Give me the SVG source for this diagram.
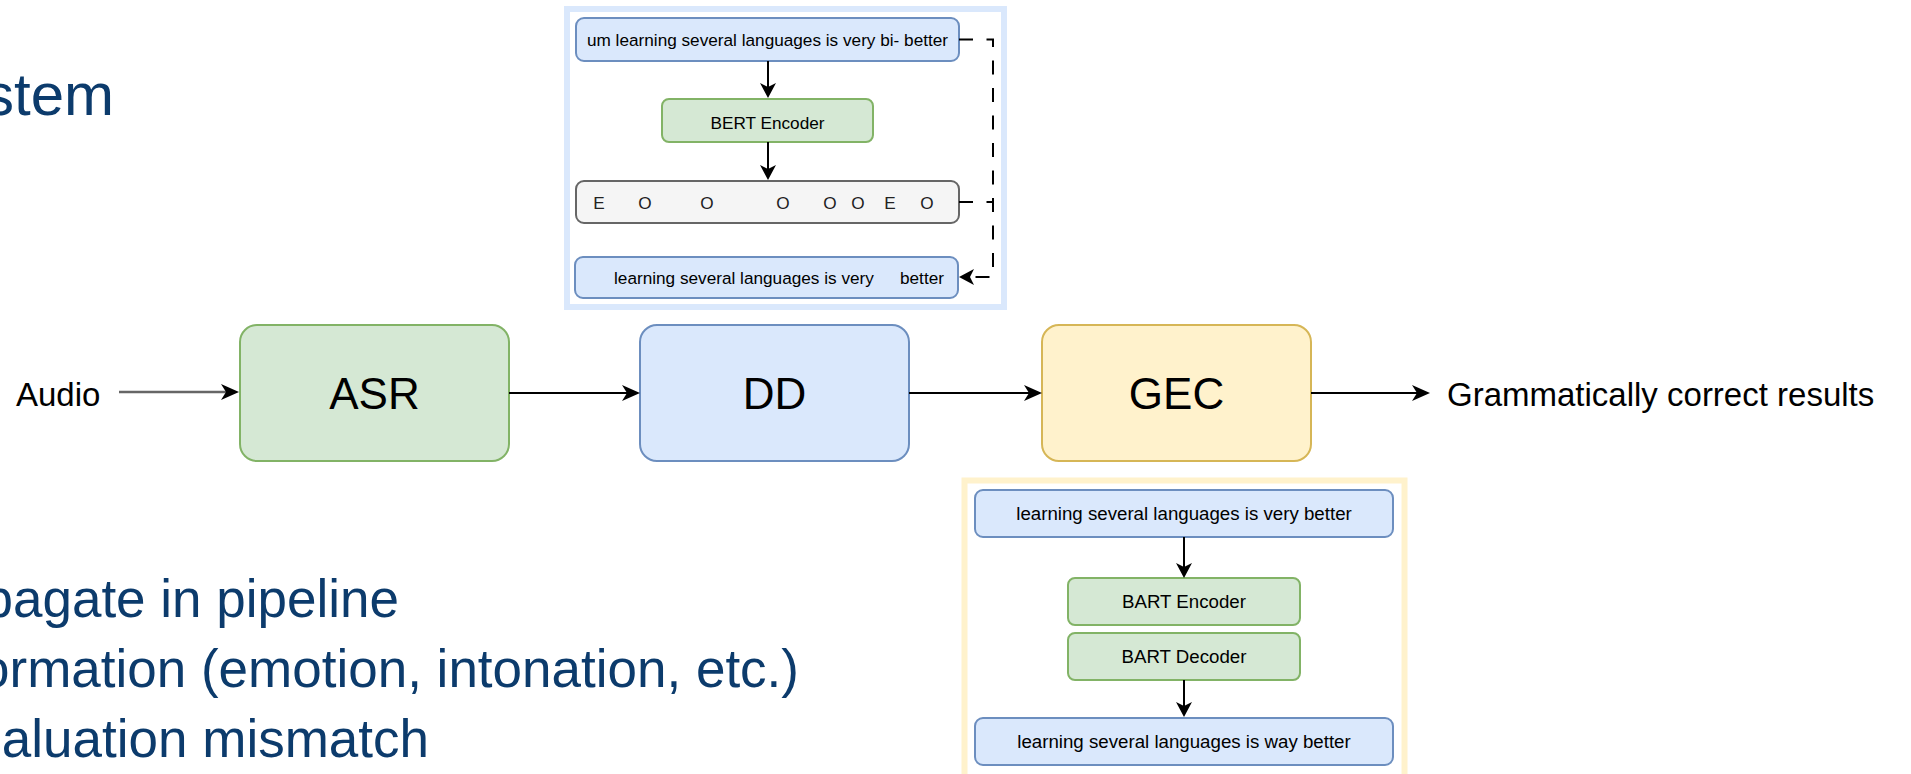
<svg xmlns="http://www.w3.org/2000/svg" width="1911" height="774" viewBox="0 0 1911 774">
  <style>
    text { font-family: "Liberation Sans", Arial, Helvetica, sans-serif; fill: #000; }
    .slide { fill: #0c3b6c; }
    .big { font-size: 44px; text-anchor: middle; }
    .io { font-size: 33px; }
    .sm17 { font-size: 17.2px; text-anchor: middle; }
    .sm18 { font-size: 18.7px; text-anchor: middle; }
    .blue { fill: #dae8fc; stroke: #6c8ebf; stroke-width: 2; }
    .green { fill: #d5e8d4; stroke: #82b366; stroke-width: 2; }
    .yellow { fill: #fff2cc; stroke: #d6b656; stroke-width: 2; }
    .grey { fill: #f5f5f5; stroke: #666666; stroke-width: 2; }
    .edge { fill: none; stroke: #000; stroke-width: 2; }
    .dash { fill: none; stroke: #000; stroke-width: 2; stroke-dasharray: 14 13.5; }
  </style>
  <defs>
    <marker id="arrowL" viewBox="0 0 18 16" refX="5" refY="8" markerWidth="18" markerHeight="16" markerUnits="userSpaceOnUse" orient="auto">
      <path d="M0,0 L18,8 L0,16 L5,8 Z" fill="#000"/>
    </marker>
    <marker id="arrowS" viewBox="0 0 15 16" refX="4" refY="8" markerWidth="15" markerHeight="16" markerUnits="userSpaceOnUse" orient="auto">
      <path d="M0,0 L15,8 L0,16 L4,8 Z" fill="#000"/>
    </marker>
  </defs>

  <rect width="1911" height="774" fill="#fff"/>

  <!-- slide text around the figure -->
  <g id="slide-text" class="slide">
    <text x="114" y="115" font-size="60" text-anchor="end" class="slide">stem</text>
    <text x="399" y="617" font-size="53" text-anchor="end" class="slide">pagate in pipeline</text>
    <text x="799" y="687" font-size="53" text-anchor="end" class="slide">ormation (emotion, intonation, etc.)</text>
    <text x="429" y="757" font-size="53" text-anchor="end" class="slide">aluation mismatch</text>
  </g>

  <!-- DD detail panel -->
  <g id="dd-panel">
    <rect x="567" y="9" width="437" height="298" fill="#fff" stroke="#dae8fc" stroke-width="6"/>
    <g id="dd-input">
      <rect x="576" y="18" width="383" height="43" rx="8" class="blue"/>
      <text x="767.5" y="45.5" class="sm17">um learning several languages is very bi- better</text>
    </g>
    <g id="bert-encoder">
      <rect x="662" y="99" width="211" height="43" rx="7" class="green"/>
      <text x="767.5" y="129" class="sm17">BERT Encoder</text>
    </g>
    <g id="dd-tags">
      <rect x="576" y="181" width="383" height="42" rx="8" class="grey"/>
      <g>
        <text x="599" y="208.5" class="sm17" style="fill:#222">E</text>
        <text x="645" y="208.5" class="sm17" style="fill:#222">O</text>
        <text x="707" y="208.5" class="sm17" style="fill:#222">O</text>
        <text x="783" y="208.5" class="sm17" style="fill:#222">O</text>
        <text x="830" y="208.5" class="sm17" style="fill:#222">O</text>
        <text x="858" y="208.5" class="sm17" style="fill:#222">O</text>
        <text x="890" y="208.5" class="sm17" style="fill:#222">E</text>
        <text x="927" y="208.5" class="sm17" style="fill:#222">O</text>
      </g>
    </g>
    <g id="dd-output">
      <rect x="575" y="257" width="383" height="41" rx="8" class="blue"/>
      <text x="614" y="283.5" font-size="17.2px">learning several languages is very<tspan x="900">better</tspan></text>
    </g>
  </g>

  <!-- GEC detail panel -->
  <g id="gec-panel">
    <rect x="964.5" y="480.5" width="440" height="310" fill="#fff" stroke="#fff2cc" stroke-width="6"/>
    <g id="gec-input">
      <rect x="975" y="490" width="418" height="47" rx="8" class="blue"/>
      <text x="1184" y="520" class="sm18">learning several languages is very better</text>
    </g>
    <g id="bart-encoder">
      <rect x="1068" y="578" width="232" height="47" rx="7" class="green"/>
      <text x="1184" y="608" class="sm18">BART Encoder</text>
    </g>
    <g id="bart-decoder">
      <rect x="1068" y="633" width="232" height="47" rx="7" class="green"/>
      <text x="1184" y="663" class="sm18">BART Decoder</text>
    </g>
    <g id="gec-output">
      <rect x="975" y="718" width="418" height="47" rx="8" class="blue"/>
      <text x="1184" y="748" class="sm18">learning several languages is way better</text>
    </g>
  </g>

  <!-- pipeline stages -->
  <g id="audio">
    <text x="16" y="406" class="io">Audio</text>
  </g>
  <g id="asr">
    <rect x="240" y="325" width="269" height="136" rx="17" class="green"/>
    <text x="374.5" y="408.5" class="big">ASR</text>
  </g>
  <g id="dd">
    <rect x="640" y="325" width="269" height="136" rx="17" class="blue"/>
    <text x="774.5" y="408.5" class="big">DD</text>
  </g>
  <g id="gec">
    <rect x="1042" y="325" width="269" height="136" rx="17" class="yellow"/>
    <text x="1176.5" y="408.5" class="big">GEC</text>
  </g>
  <g id="result">
    <text x="1447" y="406" class="io">Grammatically correct results</text>
  </g>

  <!-- connectors -->
  <g id="connectors">
    <path d="M119,392 H226" fill="none" stroke="#666" stroke-width="2.5" marker-end="url(#arrowL)"/>
    <path d="M509,393 H627" class="edge" marker-end="url(#arrowL)"/>
    <path d="M909,393 H1029" class="edge" marker-end="url(#arrowL)"/>
    <path d="M1311,393 H1417" class="edge" marker-end="url(#arrowL)"/>

    <path d="M768,61 V87" class="edge" marker-end="url(#arrowS)"/>
    <path d="M768,142 V169" class="edge" marker-end="url(#arrowS)"/>
    <path d="M959,39.5 H993 V277 H970" class="dash" marker-end="url(#arrowS)"/>
    <path d="M959,202 H993" class="dash"/>

    <path d="M1184,537 V567" class="edge" marker-end="url(#arrowS)"/>
    <path d="M1184,680 V706" class="edge" marker-end="url(#arrowS)"/>
  </g>
</svg>
